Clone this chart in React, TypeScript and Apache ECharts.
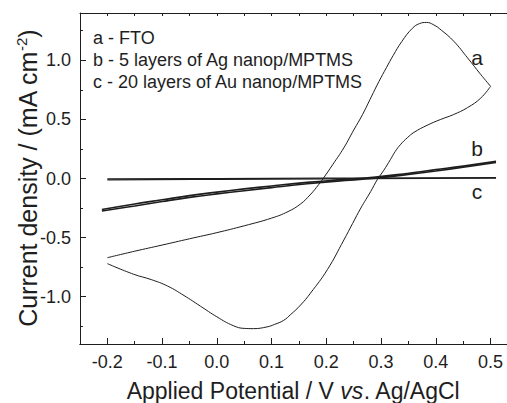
import React, { useEffect, useRef } from "react";
import * as echarts from "echarts";

// Curve a (FTO): anodic (forward) and cathodic (reverse) branches, [V, mA cm^-2]
const aForward: number[][] = [
  [-0.2, -0.67], [-0.15, -0.615], [-0.1, -0.563], [-0.05, -0.51], [0.0, -0.458],
  [0.05, -0.4], [0.1, -0.335], [0.13, -0.28], [0.153, -0.215], [0.17, -0.14],
  [0.182, -0.075], [0.195, 0.005], [0.212, 0.12], [0.232, 0.26], [0.25, 0.41],
  [0.266, 0.54], [0.282, 0.69], [0.296, 0.82], [0.31, 0.94], [0.322, 1.04],
  [0.338, 1.16], [0.357, 1.27], [0.37, 1.31], [0.383, 1.32], [0.396, 1.3],
  [0.41, 1.255], [0.433, 1.16], [0.458, 1.02], [0.482, 0.88], [0.5, 0.78],
];
const aReverse: number[][] = [
  [0.5, 0.78], [0.482, 0.68], [0.458, 0.6], [0.432, 0.54], [0.409, 0.5],
  [0.384, 0.45], [0.36, 0.39], [0.348, 0.345], [0.336, 0.29], [0.326, 0.23],
  [0.317, 0.16], [0.305, 0.07], [0.293, -0.01], [0.281, -0.11], [0.263, -0.25],
  [0.248, -0.38], [0.232, -0.52], [0.202, -0.77], [0.171, -0.97], [0.153, -1.07],
  [0.135, -1.15], [0.122, -1.2], [0.105, -1.235], [0.092, -1.255], [0.067, -1.27],
  [0.05, -1.268], [0.03, -1.245], [0.0, -1.17], [-0.03, -1.08], [-0.06, -0.99],
  [-0.09, -0.91], [-0.12, -0.855], [-0.152, -0.81], [-0.2, -0.72],
];
// Curve b (5 layers of Ag nanop/MPTMS)
const bForward: number[][] = [
  [-0.21, -0.262], [-0.15, -0.215], [-0.1, -0.18], [-0.05, -0.145], [0.0, -0.115],
  [0.05, -0.088], [0.1, -0.063], [0.165, -0.033], [0.22, -0.012], [0.29, 0.012],
  [0.35, 0.045], [0.4, 0.075], [0.45, 0.105], [0.51, 0.145],
];
const bReverse: number[][] = [
  [0.51, 0.135], [0.45, 0.095], [0.4, 0.064], [0.35, 0.035], [0.29, 0.002],
  [0.22, -0.022], [0.165, -0.045], [0.1, -0.077], [0.05, -0.103], [0.0, -0.13],
  [-0.05, -0.16], [-0.1, -0.195], [-0.15, -0.232], [-0.21, -0.275],
];
// Curve c (20 layers of Au nanop/MPTMS)
const cForward: number[][] = [[-0.2, -0.004], [0.0, -0.001], [0.2, 0.003], [0.51, 0.008]];
const cReverse: number[][] = [[0.51, 0.004], [0.2, -0.003], [0.0, -0.007], [-0.2, -0.012]];

const legendLines = [
  "a - FTO",
  "b - 5 layers of Ag nanop/MPTMS",
  "c - 20 layers of Au nanop/MPTMS",
];
const curveLabels = ["a", "b", "c"];

const FONT = "'Liberation Sans', Arial, Helvetica, sans-serif";
const INK = "#1e1e1e";
const X_MIN = -0.25;
const X_MAX = 0.53;

export default function App() {
  const ref = useRef<HTMLDivElement>(null);
  useEffect(() => {
    if (!ref.current) return;
    const chart = echarts.init(ref.current, undefined, { renderer: "svg" });
    const lineSeries = (data: number[][], width: number) => ({
      type: "line",
      data,
      xAxisIndex: 0,
      yAxisIndex: 0,
      showSymbol: false,
      smooth: 0.45,
      lineStyle: { color: INK, width },
      silent: true,
    });
    const fmt = (v: number) =>
      Math.abs(v * 10 - Math.round(v * 10)) < 1e-6 ? v.toFixed(1) : "";
    chart.setOption({
      animation: false,
      grid: { left: 80, top: 13, right: 0, bottom: 59, containLabel: false, outerBoundsMode: "none" },
      xAxis: [
        {
          type: "value",
          min: X_MIN,
          max: X_MAX,
          splitNumber: 8,
          position: "bottom",
          splitLine: { show: false },
          axisLine: { show: true, onZero: false, lineStyle: { color: INK, width: 1 } },
          axisTick: { show: true, inside: true, length: 6, lineStyle: { color: INK } },
          axisLabel: { formatter: fmt, fontSize: 18, fontFamily: FONT, color: INK, margin: 9 },
          name: "{t|Applied Potential / V }{i|vs}{t|. Ag/AgCl}",
          nameLocation: "middle",
          nameGap: 35,
          nameTextStyle: {
            rich: {
              t: { fontSize: 23, fontFamily: FONT, color: INK },
              i: { fontSize: 23, fontFamily: FONT, color: INK, fontStyle: "italic" },
            },
          },
        },
        {
          type: "value",
          min: X_MIN,
          max: X_MAX,
          interval: 0.05,
          position: "bottom",
          splitLine: { show: false },
          axisLine: { show: true, onZero: false, lineStyle: { color: INK, width: 1 } },
          axisTick: { show: true, inside: true, length: 3, lineStyle: { color: INK } },
          axisLabel: { show: false },
        },
        {
          type: "value",
          min: X_MIN,
          max: X_MAX,
          interval: 0.05,
          position: "top",
          splitLine: { show: false },
          axisLine: { show: true, onZero: false, lineStyle: { color: INK, width: 1 } },
          axisTick: { show: true, inside: true, length: 3, lineStyle: { color: INK } },
          axisLabel: { show: false },
        },
      ],
      yAxis: [
        {
          type: "value",
          min: -1.4,
          max: 1.4,
          splitNumber: 5,
          position: "left",
          splitLine: { show: false },
          axisLine: { show: true, onZero: false, lineStyle: { color: INK, width: 1 } },
          axisTick: { show: true, inside: true, length: 6, lineStyle: { color: INK } },
          minorTick: { show: true, splitNumber: 2, length: 3, lineStyle: { color: INK } },
          axisLabel: {
            formatter: (v: number) => (Math.abs(v * 2 - Math.round(v * 2)) < 1e-6 ? v.toFixed(1) : ""),
            fontSize: 18,
            fontFamily: FONT,
            color: INK,
            margin: 9,
          },
          name: "{t|Current density / (mA cm}{s|-2}{t|)}",
          nameLocation: "middle",
          nameRotate: 90,
          nameGap: 38,
          nameMoveOverlap: false,
          nameTextStyle: {
            rich: {
              t: { fontSize: 25, fontFamily: FONT, color: INK, lineHeight: 28 },
              s: { fontSize: 15, fontFamily: FONT, color: INK, lineHeight: 15, verticalAlign: "top" },
            },
          },
        },
      ],
      series: [
        lineSeries(aForward, 1),
        lineSeries(aReverse, 1),
        lineSeries(bForward, 1.6),
        lineSeries(bReverse, 1.6),
        lineSeries(cForward, 1.2),
        lineSeries(cReverse, 1.2),
      ],
      graphic: [
        ...legendLines.map((t, i) => ({
          type: "text",
          x: 93,
          y: 38 + i * 22,
          silent: true,
          style: { text: t, fontSize: 18, fontFamily: FONT, fill: INK, verticalAlign: "middle", align: "left" },
        })),
        ...curveLabels.map((t, i) => ({
          type: "text",
          x: 477,
          y: [57, 148, 191][i],
          silent: true,
          style: { text: t, fontSize: 21, fontFamily: FONT, fill: INK, verticalAlign: "middle", align: "center" },
        })),
      ],
    });
    return () => chart.dispose();
  }, []);
  return (
    <div
      ref={ref}
      style={{ position: "absolute", left: 0, top: 0, width: 507, height: 403, background: "#fff" }}
    />
  );
}
